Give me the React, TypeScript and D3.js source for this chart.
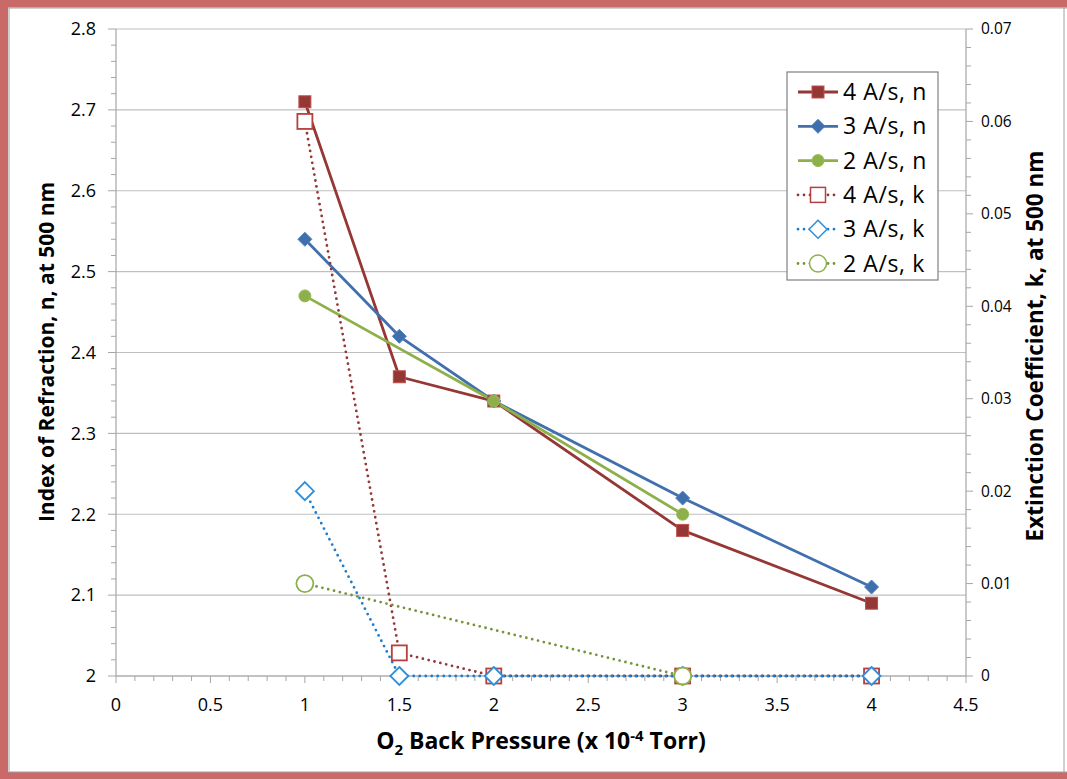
import React from "react";
import * as d3 from "d3";

const xTicks = [0, 0.5, 1, 1.5, 2, 2.5, 3, 3.5, 4, 4.5];
const nTicks = [2, 2.1, 2.2, 2.3, 2.4, 2.5, 2.6, 2.7, 2.8];
const kTicks = [0, 0.01, 0.02, 0.03, 0.04, 0.05, 0.06, 0.07];

const x4 = [1, 1.5, 2, 3, 4];
const n4 = [2.71, 2.37, 2.34, 2.18, 2.09];
const k4 = [0.06, 0.0025, 0, 0, 0];
const x3 = [1, 1.5, 2, 3, 4];
const n3 = [2.54, 2.42, 2.34, 2.22, 2.11];
const k3 = [0.02, 0, 0, 0, 0];
const x2n = [1, 2, 3];
const n2 = [2.47, 2.34, 2.2];
const x2k = [1, 3];
const k2 = [0.01, 0];

const legendLabels = ["4 A/s, n", "3 A/s, n", "2 A/s, n", "4 A/s, k", "3 A/s, k", "2 A/s, k"];

const W = 1067, H = 779;
const L = 116, R = 966, T = 29, B = 676;
const FONT = "'Open Sans', Lato, sans-serif";

const xS = d3.scaleLinear().domain([0, 4.5]).range([L, R]);
const nS = d3.scaleLinear().domain([2, 2.8]).range([B, T]);
const kS = d3.scaleLinear().domain([0, 0.07]).range([B, T]);

type Marker = "square" | "diamond" | "circle";

function MarkerShape({ type, cx, cy, size, fill, stroke, sw }: { type: Marker; cx: number; cy: number; size: number; fill: string; stroke: string; sw: number }) {
  if (type === "square") {
    return <rect x={cx - size / 2} y={cy - size / 2} width={size} height={size} fill={fill} stroke={stroke} strokeWidth={sw} />;
  }
  if (type === "diamond") {
    const h = size / 2;
    return <path d={`M${cx},${cy - h}L${cx + h},${cy}L${cx},${cy + h}L${cx - h},${cy}Z`} fill={fill} stroke={stroke} strokeWidth={sw} />;
  }
  return <circle cx={cx} cy={cy} r={size / 2} fill={fill} stroke={stroke} strokeWidth={sw} />;
}

const series = [
  { xs: x4, ys: n4, scale: nS, color: "#953735", dotted: false, marker: "square" as Marker, mFill: "#953735", mStroke: "#c0504d", size: 12 },
  { xs: x3, ys: n3, scale: nS, color: "#4170ae", dotted: false, marker: "diamond" as Marker, mFill: "#3f6fad", mStroke: "#4f81bd", size: 14 },
  { xs: x2n, ys: n2, scale: nS, color: "#8db04a", dotted: false, marker: "circle" as Marker, mFill: "#8db04a", mStroke: "#9bbb59", size: 12 },
  { xs: x4, ys: k4, scale: kS, color: "#953735", dotted: true, marker: "square" as Marker, mFill: "white", mStroke: "#b6403d", size: 15 },
  { xs: x3, ys: k3, scale: kS, color: "#1f7ccc", dotted: true, marker: "diamond" as Marker, mFill: "white", mStroke: "#2d8fdc", size: 18 },
  { xs: x2k, ys: k2, scale: kS, color: "#77933c", dotted: true, marker: "circle" as Marker, mFill: "white", mStroke: "#8db04a", size: 17 },
];

export default function App() {
  const line = d3.line<[number, number]>().x((d) => d[0]).y((d) => d[1]);
  const xMinor = d3.range(0, 4.5001, 0.1);
  const nMinor = d3.range(2, 2.8001, 0.02);
  const kMinor = d3.range(0, 0.07001, 0.002);
  const legX = 787, legY = 72, legW = 151, legH = 208;
  const rowY = (i: number) => 92 + i * 34.3;
  return (
    <svg width={W} height={H} style={{ position: "absolute", left: 0, top: 0, background: "white" }} fontFamily={FONT}>
      <rect x={0} y={0} width={W} height={H} fill="white" />
      {/* frame */}
      <rect x={4} y={3.5} width={W + 10} height={H - 6.5} fill="none" stroke="#c0504d" strokeWidth={8} opacity={0.85} />
      <rect x={9} y={8} width={W + 10} height={H - 15} fill="none" stroke="#a0a0a0" strokeWidth={1} />
      <line x1={1064} y1={8} x2={1064} y2={773} stroke="#a0a0a0" strokeWidth={1} />

      {/* gridlines */}
      {nTicks.map((t) => (
        <line key={"g" + t} x1={L} x2={R} y1={nS(t)} y2={nS(t)} stroke="#bfbfbf" strokeWidth={1.2} />
      ))}
      {/* left axis */}
      <line x1={L} x2={L} y1={T} y2={B} stroke="#a6a6a6" strokeWidth={1.2} />
      {nMinor.map((t, i) => (
        <line key={"nm" + i} x1={L - (i % 5 === 0 ? 8 : 5)} x2={L} y1={nS(t)} y2={nS(t)} stroke="#a6a6a6" strokeWidth={1} />
      ))}
      {nTicks.map((t) => (
        <text key={"nl" + t} x={96} y={nS(t)} dy="0.35em" textAnchor="end" fontSize={18} fill="#000">
          {+t.toFixed(1)}
        </text>
      ))}
      {/* right axis */}
      <line x1={R} x2={R} y1={T} y2={B} stroke="#a6a6a6" strokeWidth={1.2} />
      {kMinor.map((t, i) => (
        <line key={"km" + i} x1={R} x2={R + (i % 5 === 0 ? 7 : 5)} y1={kS(t)} y2={kS(t)} stroke="#a6a6a6" strokeWidth={1} />
      ))}
      {kTicks.map((t) => (
        <text key={"kl" + t} x={981} y={kS(t)} dy="0.35em" textAnchor="start" fontSize={15.5} fill="#000">
          {+t.toFixed(2)}
        </text>
      ))}
      {/* bottom axis */}
      <line x1={L} x2={R} y1={B} y2={B} stroke="#a6a6a6" strokeWidth={1.2} />
      {xMinor.map((t, i) => (
        <line key={"xm" + i} x1={xS(t)} x2={xS(t)} y1={B} y2={B + (i % 5 === 0 ? 7 : 5)} stroke="#a6a6a6" strokeWidth={1} />
      ))}
      {xTicks.map((t) => (
        <text key={"xl" + t} x={xS(t)} y={705} dy="0.35em" textAnchor="middle" fontSize={18} fill="#000">
          {t}
        </text>
      ))}

      {/* axis titles */}
      <text transform={`translate(47,352) rotate(-90)`} textAnchor="middle" dy="0.35em" fontSize={21} fontWeight="bold" fill="#000">
        Index of Refraction, n, at 500 nm
      </text>
      <text transform={`translate(1035,346) rotate(-90)`} textAnchor="middle" dy="0.35em" fontSize={22.5} fontWeight="bold" fill="#000">
        Extinction Coefficient, k, at 500 nm
      </text>
      <text x={541} y={741} dy="0.35em" textAnchor="middle" fontSize={23} fontWeight="bold" fill="#000">
        O<tspan fontSize={15} dy="6">2</tspan>
        <tspan dy="-6"> Back Pressure (x 10</tspan>
        <tspan fontSize={15} dy="-8">-4</tspan>
        <tspan dy="8"> Torr)</tspan>
      </text>

      {/* series lines */}
      {series.map((s, i) => {
        const pts: [number, number][] = s.xs.map((xv, j) => [xS(xv), s.scale(s.ys[j])]);
        return (
          <path
            key={"l" + i}
            d={line(pts) || ""}
            fill="none"
            stroke={s.color}
            strokeWidth={2.8}
            strokeDasharray={s.dotted ? "0 6" : undefined}
            strokeLinecap={s.dotted ? "round" : "butt"}
            strokeLinejoin="round"
          />
        );
      })}
      {series.map((s, i) =>
        s.xs.map((xv, j) => (
          <MarkerShape key={"m" + i + "-" + j} type={s.marker} cx={xS(xv)} cy={s.scale(s.ys[j])} size={s.size} fill={s.mFill} stroke={s.mStroke} sw={s.dotted ? 1.8 : 1} />
        ))
      )}

      {/* legend */}
      <rect x={legX} y={legY} width={legW} height={legH} fill="white" stroke="#808080" strokeWidth={1.2} />
      {series.map((s, i) => (
        <g key={"lg" + i}>
          <line x1={798} x2={838} y1={rowY(i)} y2={rowY(i)} stroke={s.color} strokeWidth={2.8} strokeDasharray={s.dotted ? "0 6" : undefined} strokeLinecap={s.dotted ? "round" : "butt"} />
          <MarkerShape type={s.marker} cx={818} cy={rowY(i)} size={s.size} fill={s.mFill} stroke={s.mStroke} sw={s.dotted ? 1.5 : 1} />
          <text x={843} y={rowY(i)} dy="0.35em" fontSize={23} letterSpacing={0.6} fill="#000">
            {legendLabels[i]}
          </text>
        </g>
      ))}
    </svg>
  );
}
